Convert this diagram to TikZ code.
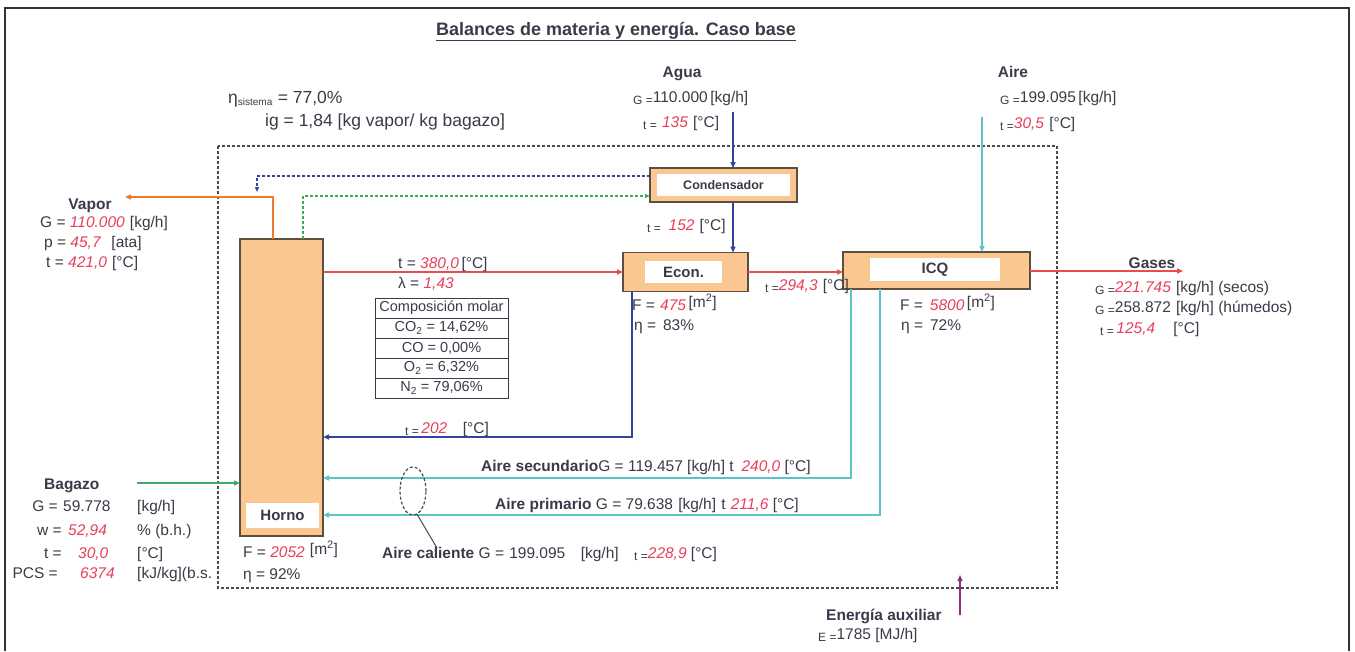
\documentclass[tikz,border=0pt]{standalone}
\usepackage{fontspec}
\setmainfont{Liberation Sans}
\usetikzlibrary{arrows.meta,calc,shapes.geometric}
\definecolor{boxfill}{HTML}{F9C78F}
\definecolor{boxdraw}{HTML}{5E4E3E}
\definecolor{vaporc}{HTML}{EE7B2A}
\definecolor{gasred}{HTML}{E84B4B}
\definecolor{waterblue}{HTML}{3344A0}
\definecolor{aircyan}{HTML}{5CC3CB}
\definecolor{bagreen}{HTML}{3DAA72}
\definecolor{dashgreen}{HTML}{3DAA5A}
\definecolor{auxpurple}{HTML}{8E2C8E}
\definecolor{valred}{HTML}{E8405A}
\definecolor{txtc}{HTML}{3C3A48}
\definecolor{bndc}{HTML}{4A4A4A}
\newcommand{\rv}[1]{\textcolor{valred}{\textit{#1}}}
\newcommand{\sm}[1]{\raisebox{-2pt}{\fontsize{12}{12}\selectfont #1}}
\tikzset{
  txt/.style={font=\fontsize{15.5}{17}\selectfont, text=txtc, inner sep=0pt, anchor=base west},
  ctxt/.style={txt, anchor=base},
  boldtxt/.style={txt, font=\fontsize{15.5}{17}\selectfont\bfseries},
  unitbox/.style={draw=boxdraw, line width=1.6pt, fill=boxfill, inner sep=0pt, outer sep=0pt},
  whitelbl/.style={fill=white, draw=none, inner sep=0pt, text=txtc, font=\fontsize{15}{17}\selectfont\bfseries},
  cell/.style={draw=txtc, line width=1pt, minimum width=133pt, minimum height=20pt, inner sep=0pt, text=txtc, font=\fontsize{14.5}{16}\selectfont},
  flow/.style={line width=1.4pt, -{Triangle[length=6pt,width=5pt]}},
  bnd/.style={draw=bndc, line width=1.4pt, dash pattern=on 3pt off 2pt},
}
\begin{document}
\begin{tikzpicture}[x=1pt,y=-1pt]
\useasboundingbox[fill=white] (0,0) rectangle (1355,651);
% outer frame
\draw[line width=1.2pt, black!80] (5,651) -- (5,8) -- (1349,8) -- (1349,651);
% title
\node[ctxt, font=\fontsize{18}{20}\selectfont\bfseries] (title) at (616,35) {\underline{Balances de materia y energía. Caso base}};
% system boundary
\draw[bnd] (218,146) rectangle (1057,588);
% global indicators
\node[txt, font=\fontsize{17.5}{19}\selectfont] (eta) at (228,103) {η\textsubscript{\fontsize{10}{10}\selectfont sistema} = 77,0\%};
\node[txt, font=\fontsize{17.5}{19}\selectfont] (ig) at (265,126) {ig = 1,84 [kg vapor/ kg bagazo]};

% units
\node[unitbox, minimum width=83pt, minimum height=297pt] (Horno) at (281.5,387.5) {};
\node[whitelbl, minimum width=73pt, minimum height=25pt] (HornoL) at (282.5,515) {Horno};
\node[unitbox, minimum width=147pt, minimum height=34pt] (Cond) at (723.5,185) {};
\node[whitelbl, minimum width=133pt, minimum height=22pt, font=\fontsize{12.5}{14}\selectfont\bfseries] (CondL) at (723.5,185) {Condensador};
\node[unitbox, minimum width=125pt, minimum height=39pt] (Econ) at (685.5,272) {};
\node[whitelbl, minimum width=77pt, minimum height=22pt] (EconL) at (683.5,272) {Econ.};
\node[unitbox, minimum width=187pt, minimum height=37pt] (ICQ) at (936.5,270.5) {};
\node[whitelbl, minimum width=130pt, minimum height=23pt] (ICQL) at (935,269.5) {ICQ};

% composition table
\node[cell] (tab1) at (441.5,308) {Composición molar};
\node[cell] (tab2) at (441.5,328) {CO\textsubscript{2} = 14,62\%};
\node[cell] (tab3) at (441.5,348) {CO = 0,00\%};
\node[cell] (tab4) at (441.5,368) {O\textsubscript{2} = 6,32\%};
\node[cell] (tab5) at (441.5,388) {N\textsubscript{2} = 79,06\%};

% coordinates for free ends
\coordinate (vapout) at (125,197);
\coordinate (aguain) at (733,112);
\coordinate (airein) at (982,117);
\coordinate (gasout) at (1183,271);
\coordinate (bagin) at (137,483);
\coordinate (auxin) at (960,615);
\coordinate (auxtip) at (960,575);
\coordinate (ret) at (632,437);
\coordinate (sec) at (851,478);
\coordinate (pri) at (880,515);

% vapor
\draw[flow, vaporc] (Horno.north -| 273,0) -- (273,197) -- (vapout);
% blue dashed control
\draw[waterblue, line width=1.2pt, dash pattern=on 3pt off 2pt, -{Triangle[length=5pt,width=4pt]}] (Cond.west |- 0,176) -- (257,176) -- (257,192);
% green dashed
\draw[dashgreen, line width=1.2pt, dash pattern=on 3pt off 2pt, -{Triangle[length=5pt,width=4pt]}] (Horno.north -| 303,0) -- (303,196) -- (Cond.west |- 0,196);
% water
\draw[flow, waterblue] (aguain) -- (aguain |- Cond.north);
\draw[flow, waterblue] (Cond.south -| aguain) -- (Econ.north -| aguain);
% air in
\draw[flow, aircyan] (airein) -- (airein |- ICQ.north);
% gases
\draw[flow, gasred] (Horno.east |- Econ.west) -- (Econ.west);
\draw[flow, gasred] (Econ.east) -- (ICQ.west |- Econ.east);
\draw[flow, gasred] (ICQ.east |- gasout) -- (gasout);
% water return to horno
\draw[flow, waterblue] (Econ.south -| ret) -- (ret) -- (ret -| Horno.east);
% air secondary / primary
\draw[flow, aircyan] (ICQ.south -| sec) -- (sec) -- (sec -| Horno.east);
\draw[flow, aircyan] (ICQ.south -| pri) -- (pri) -- (pri -| Horno.east);
% bagazo
\draw[flow, bagreen] (bagin) -- (bagin -| Horno.west);
% auxiliary energy
\draw[flow, auxpurple] (auxin) -- (auxtip);
% dashed ellipse (aire caliente)
\node[draw=bndc, line width=1.2pt, dash pattern=on 3pt off 2pt, ellipse, minimum width=26pt, minimum height=48pt, inner sep=0pt] (ell) at (413,491) {};
\coordinate (elltail) at (437,548);
\draw[bndc, line width=1pt] (ell.-80) -- (elltail);

% Agua
\node[boldtxt, anchor=base] (agualbl) at (682,77) {Agua};
\node[txt] (aguaG) at (633,102) {\sm{G =}110.000\,[kg/h]};
\node[txt] (aguat) at (643,127) {\sm{t =}\,\,\rv{135}\,\,[°C]};
\node[txt] (cond152) at (647,230) {\sm{t =}\,\,\,\rv{152}\,\,[°C]};
% Aire
\node[boldtxt, anchor=base] (airelbl) at (1013,77) {Aire};
\node[txt] (aireG) at (1000,102) {\sm{G =}199.095\,[kg/h]};
\node[txt] (airet) at (1000,128) {\sm{t =}\rv{30,5}\,\,[°C]};
% Vapor
\node[boldtxt, anchor=base] (vaplbl) at (90,209) {Vapor};
\node[txt] (vapG) at (40,227) {G = \rv{110.000}\,\,[kg/h]};
\node[txt] (vapp) at (44,247) {p = \rv{45,7}\,\,\,\,[ata]};
\node[txt] (vapt) at (46,267) {t = \rv{421,0}\,\,[°C]};
% combustion gases
\node[txt] (gast) at (398,268) {t = \rv{380,0}\,[°C]};
\node[txt] (gasl) at (398,288) {λ = \rv{1,43}};
% Econ data
\node[txt] (econF) at (632,310) {F =\,\,\rv{475}\,\raisebox{3pt}{[m\textsuperscript{2}]}};
\node[txt] (econeta) at (634,330) {η = \,83\%};
\node[txt] (t294) at (765,290) {\sm{t =}\rv{294,3}\,\,[°C]};
% ICQ data
\node[txt] (icqF) at (900,310) {F = \,\rv{5800}\,\raisebox{3pt}{[m\textsuperscript{2}]}};
\node[txt] (icqeta) at (901,330) {η = \,72\%};
% Gases
\node[boldtxt, anchor=base] (gaslbl) at (1152,268) {Gases};
\node[txt] (gasG1) at (1095,292) {\sm{G =}\rv{221.745}\,\,[kg/h] (secos)};
\node[txt] (gasG2) at (1095,312) {\sm{G =}258.872\,\,[kg/h] (húmedos)};
\node[txt] (gast2) at (1100,333) {\sm{t =}\,\rv{125,4}\quad\,[°C]};
% return water
\node[txt] (t202) at (405,433) {\sm{t =}\,\rv{202}\quad[°C]};
% air lines
\node[txt] (secl) at (481,471) {\textbf{Aire secundario}G = 119.457 [kg/h] t\,\,\,\rv{240,0} [°C]};
\node[txt] (pril) at (495,509) {\textbf{Aire primario} G = 79.638\,\,[kg/h]\,\,t\,\,\rv{211,6} [°C]};
\node[txt] (call) at (382,558) {\textbf{Aire caliente} G =\,\,199.095\quad[kg/h]\quad\sm{t =}\rv{228,9} [°C]};
% Horno data
\node[txt] (hornoF) at (243,557) {F = \rv{2052}\,\,\raisebox{3pt}{[m\textsuperscript{2}]}};
\node[txt] (hornoeta) at (243,579) {η = 92\%};
% Bagazo
\node[boldtxt] (baglbl) at (44,489) {Bagazo};
\node[txt, anchor=base east] (bgGl) at (58,511) {G =};
\node[txt] (bgGv) at (63,511) {59.778};
\node[txt] (bgGu) at (137,511) {[kg/h]};
\node[txt, anchor=base east] (bgwl) at (62,535) {w =};
\node[txt] (bgwv) at (68,535) {\rv{52,94}};
\node[txt] (bgwu) at (137,535) {\% (b.h.)};
\node[txt, anchor=base east] (bgtl) at (62,558) {t =};
\node[txt] (bgtv) at (78,558) {\rv{30,0}};
\node[txt] (bgtu) at (137,558) {[°C]};
\node[txt, anchor=base east] (bgpl) at (58,578) {PCS =};
\node[txt] (bgpv) at (80,578) {\rv{6374}};
\node[txt] (bgpu) at (137,578) {[kJ/kg](b.s.};
% Energia auxiliar
\node[boldtxt] (auxl) at (826,620) {Energía auxiliar};
\node[txt] (auxE) at (818,639) {\sm{E =}1785 [MJ/h]};
\end{tikzpicture}
\end{document}
